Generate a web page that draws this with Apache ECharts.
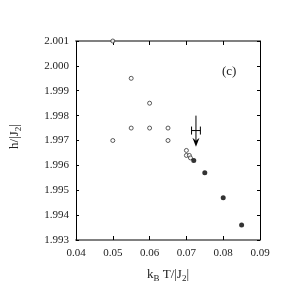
<!DOCTYPE html>
<html><head><meta charset="utf-8">
<script src="https://cdn.jsdelivr.net/npm/echarts@6/dist/echarts.min.js"></script>
<style>html,body{margin:0;padding:0;background:#fff}#c{width:300px;height:300px}</style>
</head><body><div id="c"></div>
<script>
const xTicks = [0.04, 0.05, 0.06, 0.07, 0.08, 0.09];
const yTicks = [1.993, 1.994, 1.995, 1.996, 1.997, 1.998, 1.999, 2.000, 2.001];
const openX = [0.050, 0.055, 0.060, 0.055, 0.060, 0.065, 0.050, 0.065, 0.0700, 0.0700, 0.0708, 0.0711];
const openY = [2.001, 1.9995, 1.9985, 1.9975, 1.9975, 1.9975, 1.9970, 1.9970, 1.9966, 1.9964, 1.9964, 1.9963];
const filledX = [0.072, 0.075, 0.080, 0.085];
const filledY = [1.9962, 1.9957, 1.9947, 1.9936];
const arrowX = [0.0726];
const arrowTop = [1.9980];
const arrowTip = [1.99675];
const errY = [1.9974];
const errLow = [0.0714];
const errHigh = [0.0738];
const panelLabel = '(c)';

const font = 'Liberation Serif';
const chart = echarts.init(document.getElementById('c'));
const xMin = xTicks[0], xMax = xTicks[xTicks.length-1];
const yMin = yTicks[0], yMax = yTicks[yTicks.length-1];
const openData = openX.map((x,i)=>[x, openY[i]]);
const filledData = filledX.map((x,i)=>[x, filledY[i]]);
const arrowData = arrowX.map((x,i)=>[x, arrowTop[i], arrowTip[i], errY[i], errLow[i], errHigh[i]]);

chart.setOption({
  animation:false,
  backgroundColor:'#fff',
  grid:{left:60, right:40, top:41, bottom:60},
  xAxis:[{
    type:'value', min:xMin, max:xMax, interval:0.01,
    axisLine:{lineStyle:{color:'#808080', width:2}},
    axisTick:{inside:true, length:4, lineStyle:{color:'#000'}},
    axisLabel:{color:'#222', fontFamily:font, fontSize:11, margin:8, formatter:v=>v.toFixed(2)},
    splitLine:{show:false},
    name:'k{sub|B} T/|J{sub|2}|', nameLocation:'middle', nameGap:26,
    nameTextStyle:{color:'#222', fontFamily:font, fontSize:13, rich:{sub:{fontFamily:font, fontSize:9, verticalAlign:'bottom', padding:[8,0,0,0]}}}
  },{
    type:'value', position:'top', min:xMin, max:xMax, interval:0.01,
    axisLine:{lineStyle:{color:'#808080', width:2}},
    axisTick:{inside:true, length:4, lineStyle:{color:'#000'}},
    axisLabel:{show:false}, splitLine:{show:false}
  }],
  yAxis:[{
    type:'value', min:yMin, max:yMax, interval:0.001,
    axisLine:{lineStyle:{color:'#000', width:1}},
    axisTick:{inside:true, length:3, lineStyle:{color:'#000'}},
    axisLabel:{color:'#222', fontFamily:font, fontSize:11, margin:7, formatter:v=>v.toFixed(3)},
    splitLine:{show:false},
    name:'h/|J{sub|2}|', nameLocation:'middle', nameGap:53, nameRotate:90,
    nameTextStyle:{color:'#222', fontFamily:font, fontSize:13, padding:[0,0,0,8], rich:{sub:{fontFamily:font, fontSize:9, verticalAlign:'bottom', padding:[8,0,0,0]}}}
  },{
    type:'value', position:'right', min:yMin, max:yMax, interval:0.001,
    axisLine:{lineStyle:{color:'#000', width:1}},
    axisTick:{inside:true, length:3, lineStyle:{color:'#000'}},
    axisLabel:{show:false}, splitLine:{show:false}
  }],
  series:[{
    type:'scatter', data:openData, symbol:'circle', symbolSize:4,
    itemStyle:{color:'#fff', borderColor:'#333', borderWidth:1}
  },{
    type:'scatter', data:filledData, symbol:'circle', symbolSize:5,
    itemStyle:{color:'#000'}
  },{
    type:'custom', data:arrowData,
    renderItem:(params, api)=>{
      const x = api.value(0);
      const top = api.coord([x, api.value(1)]);
      const tip = api.coord([x, api.value(2)]);
      const mid = api.coord([x, api.value(3)]);
      const l = api.coord([api.value(4), api.value(3)]);
      const h = api.coord([api.value(5), api.value(3)]);
      const s = {stroke:'#000', lineWidth:1};
      return {type:'group', children:[
        {type:'line', shape:{x1:top[0], y1:top[1], x2:tip[0], y2:tip[1]-6}, style:s},
        {type:'line', shape:{x1:l[0], y1:mid[1], x2:h[0], y2:mid[1]}, style:s},
        {type:'line', shape:{x1:l[0], y1:mid[1]-4, x2:l[0], y2:mid[1]+4}, style:s},
        {type:'line', shape:{x1:h[0], y1:mid[1]-4, x2:h[0], y2:mid[1]+4}, style:s},
        {type:'polygon', shape:{points:[[tip[0]-3.5, tip[1]-9],[tip[0], tip[1]-6],[tip[0]+3.5, tip[1]-9],[tip[0], tip[1]]]}, style:{fill:'#000'}}
      ]};
    }
  }],
  graphic:[{type:'text', left:222, top:65, style:{text:panelLabel, font:'13px "Liberation Serif"', fill:'#222'}}]
});
</script></body></html>
